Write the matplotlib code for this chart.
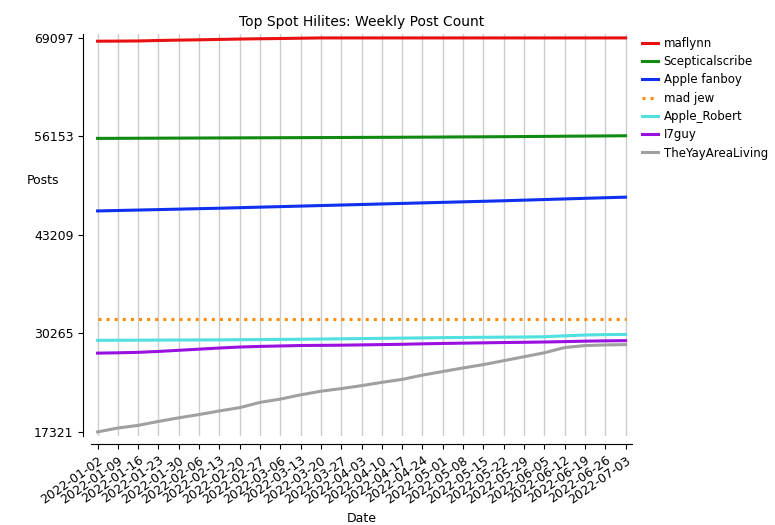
import matplotlib
matplotlib.use("Agg")
import matplotlib.pyplot as plt
import numpy as np
import pandas as pd

dates = pd.date_range("2022-01-02", "2022-07-03", freq="7D")
labels = [d.strftime("%Y-%m-%d") for d in dates]

maflynn = [68666, 68680, 68700, 68760, 68810, 68850, 68900, 68950, 68990, 69020, 69060,
           69097, 69097, 69097, 69097, 69097, 69097, 69097, 69097, 69097, 69097, 69097,
           69097, 69097, 69097, 69097, 69097]
scepticalscribe = [55898, 55905, 55915, 55925, 55935, 55945, 55955, 55965, 55975, 55985, 55995,
                   56005, 56015, 56025, 56035, 56045, 56060, 56075, 56090, 56105, 56120, 56140,
                   56160, 56180, 56200, 56220, 56243]
apple_fanboy = [46361, 46420, 46480, 46540, 46600, 46660, 46720, 46790, 46860, 46930, 47000,
                47070, 47140, 47210, 47280, 47350, 47420, 47490, 47560, 47630, 47700, 47780,
                47860, 47940, 48020, 48100, 48173]
mad_jew = [32121] * 27
apple_robert = [29360, 29370, 29380, 29390, 29400, 29410, 29420, 29440, 29460, 29480, 29500,
                29530, 29560, 29590, 29620, 29650, 29680, 29710, 29740, 29760, 29780, 29800,
                29830, 29950, 30060, 30110, 30137]
i7guy = [27677, 27720, 27780, 27900, 28050, 28200, 28350, 28480, 28560, 28620, 28680,
         28700, 28720, 28760, 28800, 28840, 28900, 28950, 28990, 29030, 29070, 29100,
         29140, 29190, 29250, 29290, 29317]
yay_area = [17321, 17839, 18184, 18702, 19176, 19608, 20083, 20514, 21205, 21636, 22197,
            22672, 23017, 23405, 23837, 24225, 24786, 25261, 25735, 26167, 26685, 27203,
            27721, 28411, 28670, 28756, 28799]

series = [
    ("maflynn", maflynn, "#e81010", "-"),
    ("Scepticalscribe", scepticalscribe, "#118a11", "-"),
    ("Apple fanboy", apple_fanboy, "#1030f0", "-"),
    ("mad jew", mad_jew, "#ff8c10", ":"),
    ("Apple_Robert", apple_robert, "#50e0e0", "-"),
    ("I7guy", i7guy, "#9a10e0", "-"),
    ("TheYayAreaLiving", yay_area, "#a0a0a0", "-"),
]

fig = plt.figure(figsize=(7.75, 5.25), dpi=100)
ax = fig.add_axes([0.118, 0.17, 0.697, 0.765])
# spine offsets first, they reset the tick setup
for s in ["top", "right"]:
    ax.spines[s].set_visible(False)
ax.spines["left"].set_position(("outward", 6))
ax.spines["bottom"].set_position(("outward", 6))

x = np.arange(len(dates))
for name, vals, col, ls in series:
    ax.plot(x, vals, color=col, ls=ls, lw=2.2, label=name)

lo, hi = min(yay_area), max(maflynn)
ax.set_yticks(np.linspace(lo, hi, 5).round().astype(int))
ax.set_ylim(lo - 500, hi + 500)
ax.set_xlim(-0.3, len(x) - 1 + 0.3)
ax.set_xticks(x)
ax.set_xticklabels(labels, rotation=35, ha="right", rotation_mode="anchor", fontsize=9)
ax.tick_params(axis="y", labelsize=9)
ax.grid(axis="x", color="#cccccc", lw=1)
ax.set_title("Top Spot Hilites: Weekly Post Count", fontsize=10)
ax.set_xlabel("Date", fontsize=9)
ax.set_ylabel("Posts", fontsize=9, rotation=0, ha="right")
ax.yaxis.set_label_coords(-0.06, 0.62)
ax.legend(loc="upper left", bbox_to_anchor=(1.0, 1.02), frameon=False, fontsize=8.5,
          handlelength=1.3, handletextpad=0.5, labelspacing=0.45)
fig.savefig("out.png")
